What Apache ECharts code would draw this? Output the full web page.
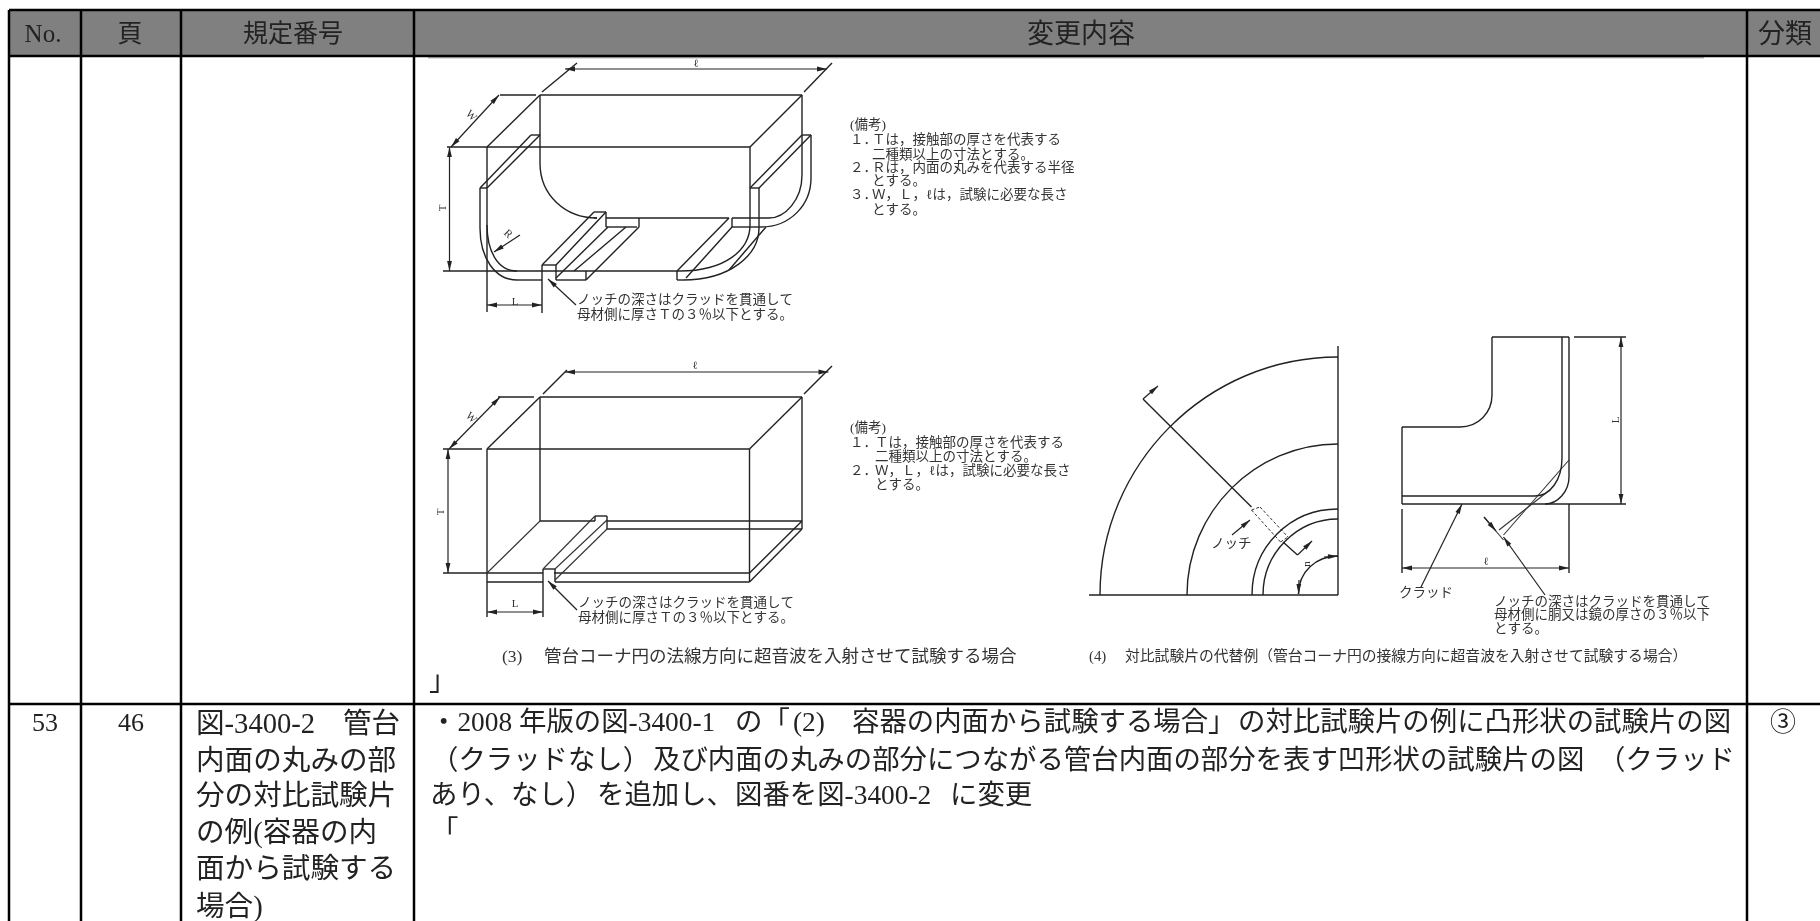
<!DOCTYPE html>
<html>
<head>
<meta charset="utf-8">
<title>変更内容</title>
<style>html,body{margin:0;padding:0;background:#fff}#main{width:1820px;height:921px}</style>
<script src="https://cdn.jsdelivr.net/npm/echarts@6/dist/echarts.min.js"></script>
</head>
<body>
<div id="main"></div>
<script>
// 表の罫線 [x1,y1,x2,y2]
var headerBand = [[9, 10, 1820, 56]];
var tableRules = [
	[9,10,1820,10],[9,56,1820,56],[9,704,1820,704],
	[9,10,9,921],[81,10,81,921],[181,10,181,921],[414,10,414,921],[1747,10,1747,921]
];
var pictureEdge = [[428,57.5,1704,57.5]];

// 見出しと行のテキスト [x,y,text]
var headerTexts = [[1081,35.5,'変更内容'],[1785,35.5,'分類']];
var headerSmallTexts = [[43,35.5,'No.'],[130,35.5,'頁'],[293,35.5,'規定番号']];
var rowCenterTexts = [[45,724,'53'],[131,724,'46'],[1783,724,'③']];
var ruleTexts = [
	[196,725,'図-3400-2'],[343,725,'管台'],
	[196,762,'内面の丸みの部'],[196,797,'分の対比試験片'],[196,834,'の例(容器の内'],[196,870,'面から試験する'],[196,908,'場合)']
];
var changeTexts = [
	[430,724,'・2008'],[519,724,'年版の図-3400-1'],[735,724,'の「'],[793,724,'(2)'],
	[852,724,'容器の内面から試験する場合」'],[1238,724,'の対比試験片の例に凸形状の試験片の図'],
	[431,762,'\uFF08クラッドなし\uFF09'],[653,762,'及び内面の丸みの部分につながる管台内面の部分を表す凹形状の試験片の図'],[1598,762,'\uFF08クラッド'],
	[430,797,'あり、なし\uFF09'],[597,797,'を追加し、'],[735,797,'図番を図-3400-2'],[950,797,'に変更'],
	[431,833,'「'],[429,683,'」']
];

// 図の注記 [x,y,text]
var noteTexts = [
	[577,300,'ノッチの深さはクラッドを貫通して'],[577,315,'母材側に厚さ\uFF34の\uFF13\uFF05以下とする。'],
	[850,125,'(備考)'],[850,140,'\uFF11\uFF0E'],[872,140,'\uFF34は\uFF0C接触部の厚さを代表する'],[872,155,'二種類以上の寸法とする。'],
	[850,168,'\uFF12\uFF0E'],[872,168,'\uFF32は\uFF0C内面の丸みを代表する半径'],[872,181,'とする。'],
	[850,195,'\uFF13\uFF0E'],[872,195,'\uFF37\uFF0C\uFF2C\uFF0Cℓは\uFF0C試験に必要な長さ'],[872,210,'とする。'],
	[578,603,'ノッチの深さはクラッドを貫通して'],[578,618,'母材側に厚さ\uFF34の\uFF13\uFF05以下とする。'],
	[850,428,'(備考)'],[850,443,'\uFF11\uFF0E'],[875,443,'\uFF34は\uFF0C接触部の厚さを代表する'],[875,457,'二種類以上の寸法とする。'],
	[850,471,'\uFF12\uFF0E'],[875,471,'\uFF37\uFF0C\uFF2C\uFF0Cℓは\uFF0C試験に必要な長さ'],[875,485,'とする。'],
	[1211,544,'ノッチ'],[1399,593,'クラッド'],
	[1494,602,'ノッチの深さはクラッドを貫通して'],[1494,615,'母材側に胴又は鏡の厚さの\uFF13\uFF05以下'],[1494,629,'とする。']
];
var captionTexts = [[502,657,'(3)'],[544,657,'管台コーナ円の法線方向に超音波を入射させて試験する場合']];
var captionSmallTexts = [[1089,657,'(4)'],[1125,657,'対比試験片の代替例\uFF08管台コーナ円の接線方向に超音波を入射させて試験する場合\uFF09']];
// 寸法記号 [x,y,text,回転]
var dimLabels = [
	[696,64,'ℓ',0],[471,116,'W',-45],[443,208,'T',90],[515,302,'L',0],[508,234,'R',-45],
	[695,366,'ℓ',0],[471,418,'W',-45],[441,512,'T',90],[515,604,'L',0],
	[1307,564,'n',90],[1616,420,'L',90],[1486,562,'ℓ',0]
];

// 図の直線 [x1,y1,x2,y2]
var drawLines1 = [
	[540,95,802,95],[540,95,487,147],[802,95,750,147],[447,147,750,147],[500,95,536,95],
	[542,92,577,63],[804,92,832,63],
	[540,95,540,163],[802,95,802,135],[487,147,487,312],[750,147,750,188],
	[597,218,594,218],[606,218,729,218],[443,271,680,271],
	[487,188,540,135],[480,188,531,135],[531,135,540,135],[480,188,487,188],
	[750,188,802,135],[759,188,811,135],[802,135,811,135],[750,188,759,188],
	[480,188,480,228],[811,135,811,178],[802,135,802,175],[750,188,750,225],[759,188,759,228],
	[517,280,542,280],[542,280,542,265],[542,265,556,265],[556,265,556,280],[556,280,586,280],[586,280,586,271],
	[542,265,594,212],[556,265,606,212],[594,212,606,212],[606,212,606,227],[606,227,637,227],[639,218,639,227],
	[586,280,639,227],[556,278,608,227],[574,271,626,227],
	[677,280,683,280],[677,271,677,280],[677,271,729,218],[686,278,732,227],[732,218,732,227],[732,227,761,227],[732,218,769,218],
	[766,227,729,270],[542,280,542,313],
	// 2
	[540,397,802,397],[498,397,534,397],[443,449,482,449],[487,449,749.5,449],
	[487,449,540,397],[749.5,449,802,397],[487,449,487,617],[749.5,449,749.5,582],[540,397,540,521],[802,397,802,529],
	[540,521,595,521],[607,521,802,521],[607,529,802,529],[595,516,607,516],[607,516,607,529],[595,516,595,521],
	[443,573,543,573],[554,573,749.5,573],[487,582,543,582],[555,582,749.5,582],[543,617,543,569],[543,569,555,569],[555,569,555,582],
	[749.5,573,802,521],[749.5,582,802,529],
	[543,394,567,370],[804,394,832,366],
	// 3
	[1338,346,1338,595],[1089,595,1338,595],
	[1143,399,1251.5,507],[1283,542,1297.5,555],
	// 4
	[1492,337,1569,337],[1562,337,1562,458],[1569,337,1569,477],[1492,337,1492,395],[1402,427,1460,427],[1402,427,1402,504],
	[1402,496,1535,496],[1402,504,1626,504],[1574,337,1626,337],
	[1402,509,1402,573],[1569,504,1569,573]
];
var drawLinesThin = [
	[487,573,540,521],[543,569,595,516],[555,569,607,520],[555,580,607,529],
	[1569,460,1503.5,535],[1546,493,1499,530],[1484,517,1503.5,540]
];
var dashLines = [
	[1251.5,510,1260,507],[1260,507,1288,537],[1251.5,510,1280.5,542],[1280.5,542,1288,537]
];
// 曲線 3次ベジェ [x1,y1,cx1,cy1,cx2,cy2,x2,y2]
var curves = [
	[540,163,540,195,565,218,597,218],
	[802,175,802,200,785,218,769,218],
	[811,178,811,205,790,227,761,227],
	[480,228,480,258,495,280,517,280],
	[487,225,487,250,497,271,517,271],
	[750,225,750,250,725,271,680,271],
	[759,228,759,255,730,280,683,280],
	[1100,595,1100,464,1207,357,1338,357],
	[1187,595,1187,512,1255,444,1338,444],
	[1252,595,1252,547,1290,509,1338,509],
	[1263,595,1263,553,1297,519,1338,519],
	[1298.5,594,1298.5,572,1316,556,1338,556],
	[1492,395,1492,413,1478,427,1460,427],
	[1569,477,1569,491,1558,504,1545,504],
	[1562,458,1562,480,1550,496,1535,496]
];
// 両矢印の寸法線と片矢印の引出線 [x1,y1,x2,y2] (x2,y2 が矢印側)
var dimLines = [
	[565,69,827,69],[499,95,451,147],[449.5,147,449.5,271],[487,305,542,305],
	[565,372,828.5,372],[500,397,449,449],[448,449,448,573],[487,612,543,612],
	[1621,337,1621,504],[1402,568,1569,568]
];
var leaderLines = [
	[520,235,494,252],[576,305,548,279],[577,610,548,581],
	[1143,399,1158,386],[1297.5,555,1312,541],[1232,535,1250,520],
	[1421,587,1462,504],[1545,595,1503.5,537],[1484,517,1496,531],
	[1324,557,1338,556],[1299,580,1298.5,594]
];

var myChart = echarts.init(document.getElementById('main'));
var cjkFont = '"Liberation Serif","Noto Sans CJK JP"';

function arrowHead(from, to){
	var a = Math.atan2(to[1]-from[1], to[0]-from[0]);
	var len = 10, w = 2.4;
	var bx = to[0]-Math.cos(a)*len, by = to[1]-Math.sin(a)*len;
	return {
		type: 'polygon',
		shape: {points: [to, [bx-Math.sin(a)*w, by+Math.cos(a)*w], [bx+Math.sin(a)*w, by-Math.cos(a)*w]]},
		style: {fill: '#222'}
	};
}

function lineSeries(rows, color, width, dash){
	return {
		type: 'custom', silent: true, animation: false, clip: false,
		encode: {x: [0,2], y: [1,3]},
		data: rows,
		renderItem: function(params, api){
			var a = api.coord([api.value(0), api.value(1)]);
			var b = api.coord([api.value(2), api.value(3)]);
			return {
				type: 'line',
				shape: {x1: a[0], y1: a[1], x2: b[0], y2: b[1]},
				style: {stroke: color, lineWidth: width, lineDash: dash || null}
			};
		}
	};
}

function arrowSeries(rows, both){
	return {
		type: 'custom', silent: true, animation: false, clip: false,
		encode: {x: [0,2], y: [1,3]},
		data: rows,
		renderItem: function(params, api){
			var a = api.coord([api.value(0), api.value(1)]);
			var b = api.coord([api.value(2), api.value(3)]);
			var kids = [
				{type: 'line', shape: {x1: a[0], y1: a[1], x2: b[0], y2: b[1]}, style: {stroke: '#222', lineWidth: 1.2}},
				arrowHead(a, b)
			];
			if(both) kids.push(arrowHead(b, a));
			return {type: 'group', children: kids};
		}
	};
}

function textSeries(rows, size, color, align){
	return {
		type: 'custom', silent: true, animation: false, clip: false,
		data: rows.map(function(r){ return [r[0], r[1]]; }),
		encode: {x: 0, y: 1},
		renderItem: function(params, api){
			var r = rows[params.dataIndex];
			var p = api.coord([api.value(0), api.value(1)]);
			return {
				type: 'text',
				x: p[0], y: p[1],
				rotation: (r[3] || 0) * Math.PI / 180,
				style: {
					text: r[2], x: 0, y: 0, fill: color,
					font: size + 'px ' + cjkFont,
					align: align, verticalAlign: 'middle'
				}
			};
		}
	};
}

var bandSeries = {
	type: 'custom', silent: true, animation: false, clip: false,
	encode: {x: [0,2], y: [1,3]},
	data: headerBand,
	renderItem: function(params, api){
		var a = api.coord([api.value(0), api.value(1)]);
		var b = api.coord([api.value(2), api.value(3)]);
		return {type: 'rect', shape: {x: a[0], y: a[1], width: b[0]-a[0], height: b[1]-a[1]}, style: {fill: '#808080'}};
	}
};

var curveSeries = {
	type: 'custom', silent: true, animation: false, clip: false,
	encode: {x: [0,6], y: [1,7]},
	data: curves,
	renderItem: function(params, api){
		var p = [0,2,4,6].map(function(i){ return api.coord([api.value(i), api.value(i+1)]); });
		return {
			type: 'bezierCurve',
			shape: {x1: p[0][0], y1: p[0][1], cpx1: p[1][0], cpy1: p[1][1], cpx2: p[2][0], cpy2: p[2][1], x2: p[3][0], y2: p[3][1]},
			style: {stroke: '#222', lineWidth: 1.4, fill: null}
		};
	}
};

option = {
	backgroundColor: '#fff',
	animation: false,
	grid: {left: 0, right: 0, top: 0, bottom: 0},
	xAxis: {type: 'value', min: 0, max: 1820, show: false},
	yAxis: {type: 'value', min: 0, max: 921, inverse: true, show: false},
	series: [
		bandSeries,
		lineSeries(pictureEdge, '#bbb', 2),
		lineSeries(tableRules, '#000', 2.5),
		lineSeries(drawLines1, '#222', 1.4),
		lineSeries(drawLinesThin, '#333', 1.1),
		lineSeries(dashLines, '#333', 1, [3,2]),
		curveSeries,
		arrowSeries(dimLines, true),
		arrowSeries(leaderLines, false),
		textSeries(headerTexts, 27, '#222', 'center'),
		textSeries(headerSmallTexts, 25, '#222', 'center'),
		textSeries(rowCenterTexts, 26, '#222', 'center'),
		textSeries(ruleTexts, 28.6, '#222', 'left'),
		textSeries(changeTexts, 27.4, '#222', 'left'),
		textSeries(noteTexts, 13.5, '#333', 'left'),
		textSeries(captionTexts, 17.5, '#333', 'left'),
		textSeries(captionSmallTexts, 14.8, '#333', 'left'),
		textSeries(dimLabels, 11, '#333', 'center')
	]
};
myChart.setOption(option);
</script>
</body>
</html>
